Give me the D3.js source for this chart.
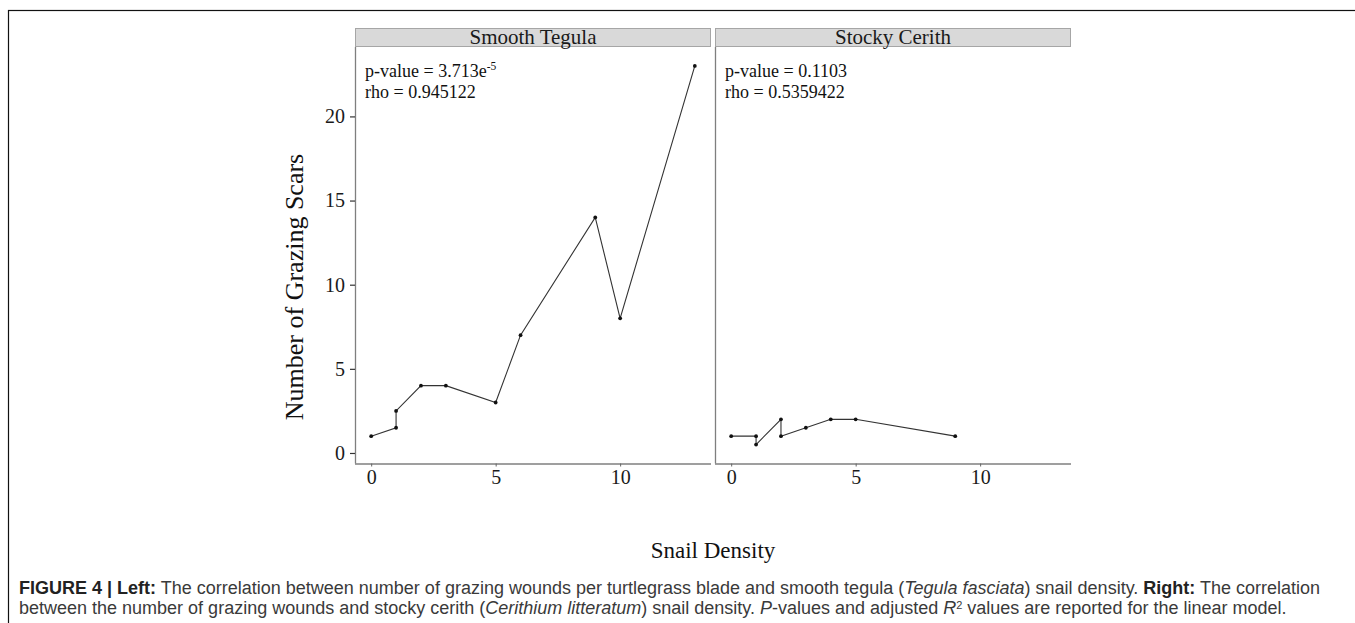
<!DOCTYPE html>
<html>
<head>
<meta charset="utf-8">
<script src="https://cdn.jsdelivr.net/npm/d3@7"></script>
<style>
  html, body { margin: 0; padding: 0; background: #fff; }
  svg { display: block; }
</style>
</head>
<body>
<svg id="chart" width="1355" height="623"></svg>
<script>
// ---------------- data ----------------
const facets = ["Smooth Tegula", "Stocky Cerith"];
const tegulaDensity = [0, 1, 1, 2, 3, 5, 6, 9, 10, 13];
const tegulaScars   = [1, 1.5, 2.5, 4, 4, 3, 7, 14, 8, 23];
const cerithDensity = [0, 1, 1, 2, 2, 3, 4, 5, 9];
const cerithScars   = [1, 1, 0.5, 2, 1, 1.5, 2, 2, 1];
const pValues = ["3.713e-5", "0.1103"];
const rhoValues = ["0.945122", "0.5359422"];
const xTicks = [0, 5, 10];
const yTicks = [0, 5, 10, 15, 20];
const xTitle = "Snail Density";
const yTitle = "Number of Grazing Scars";
const captionLine1 = [
  {t: "FIGURE 4 | Left:", s: "b"},
  {t: " The correlation between number of grazing wounds per turtlegrass blade and smooth tegula (", s: ""},
  {t: "Tegula fasciata", s: "i"},
  {t: ") snail density. ", s: ""},
  {t: "Right:", s: "b"},
  {t: " The correlation", s: ""}
];
const captionLine2 = [
  {t: "between the number of grazing wounds and stocky cerith (", s: ""},
  {t: "Cerithium litteratum", s: "i"},
  {t: ") snail density. ", s: ""},
  {t: "P", s: "i"},
  {t: "-values and adjusted ", s: ""},
  {t: "R", s: "i"},
  {t: "2", s: "sup"},
  {t: " values are reported for the linear model.", s: ""}
];

const series = [
  tegulaDensity.map((d, i) => ({x: d, y: tegulaScars[i]})),
  cerithDensity.map((d, i) => ({x: d, y: cerithScars[i]}))
];

// ---------------- layout ----------------
const svg = d3.select("#chart");
const serif = "'Liberation Serif', 'Times New Roman', serif";
const sans = "'Liberation Sans', Arial, Helvetica, sans-serif";

// figure frame
svg.append("rect").attr("x", 8.5).attr("y", 10.5).attr("width", 1500).attr("height", 800)
  .attr("fill", "none").attr("stroke", "#111").attr("stroke-width", 1.2);

const panelTop = 47, panelBottom = 463.5, stripTop = 28;
const panelLefts = [355, 715], panelW = 356;

const allX = tegulaDensity.concat(cerithDensity);
const allY = tegulaScars.concat(cerithScars);
const [x0, x1] = d3.extent(allX), [y0, y1] = d3.extent(allY);
const xPad = (x1 - x0) * 0.05, yPad = (y1 - y0) * 0.05;

const y = d3.scaleLinear().domain([y0 - yPad, y1 + yPad]).range([panelBottom, panelTop]);

facets.forEach((name, k) => {
  const left = panelLefts[k];
  const x = d3.scaleLinear().domain([x0 - xPad, x1 + xPad]).range([left, left + panelW]);
  const g = svg.append("g");

  // strip
  g.append("rect").attr("x", left + 0.5).attr("y", stripTop + 0.5)
    .attr("width", panelW - 1).attr("height", panelTop - stripTop - 1)
    .attr("fill", "#d9d9d9").attr("stroke", "#a6a6a6").attr("stroke-width", 1);
  g.append("text").attr("x", left + panelW / 2).attr("y", stripTop + 16)
    .attr("text-anchor", "middle").attr("font-family", serif).attr("font-size", 21)
    .attr("fill", "#1a1a1a").text(name);

  // x axis
  const xAxis = d3.axisBottom(x).tickValues(xTicks).tickSize(3).tickPadding(3);
  const gx = g.append("g").attr("transform", `translate(0,${panelBottom})`).call(xAxis);
  gx.select(".domain").attr("stroke", "#7f7f7f").attr("stroke-width", 1.3)
    .attr("d", `M${left},0.5H${left + panelW}`);
  gx.selectAll(".tick line").attr("stroke", "#666");
  gx.selectAll(".tick text").attr("font-family", serif).attr("font-size", 20).attr("fill", "#1a1a1a");

  // y axis
  const yAxis = d3.axisLeft(y).tickValues(yTicks).tickSize(k === 0 ? 5 : 0).tickPadding(5);
  const gy = g.append("g").attr("transform", `translate(${left},0)`).call(yAxis);
  gy.select(".domain").attr("stroke", "#7f7f7f").attr("stroke-width", 1.3)
    .attr("d", `M0.5,${panelTop}V${panelBottom}`);
  gy.selectAll(".tick line").attr("stroke", "#333").attr("stroke-width", 1.2);
  if (k === 0) {
    gy.selectAll(".tick text").attr("font-family", serif).attr("font-size", 20).attr("fill", "#1a1a1a");
  } else {
    gy.selectAll(".tick text").remove();
  }

  // line + points
  const line = d3.line().x(d => x(d.x)).y(d => y(d.y));
  g.append("path").datum(series[k]).attr("d", line)
    .attr("fill", "none").attr("stroke", "#333").attr("stroke-width", 1.1);
  g.selectAll("circle.pt").data(series[k]).join("circle").attr("class", "pt")
    .attr("cx", d => x(d.x)).attr("cy", d => y(d.y)).attr("r", 1.9).attr("fill", "#111");

  // annotations
  const pParts = pValues[k].split("e");
  const pt = g.append("text").attr("x", left + 10).attr("y", 77)
    .attr("font-family", serif).attr("font-size", 18).attr("fill", "#111");
  pt.append("tspan").text("p-value = " + pParts[0] + (pParts.length > 1 ? "e" : ""));
  if (pParts.length > 1) {
    pt.append("tspan").attr("dy", -7).attr("font-size", 11.5).text(pParts[1]);
  }
  g.append("text").attr("x", left + 10).attr("y", 98)
    .attr("font-family", serif).attr("font-size", 18).attr("fill", "#111")
    .text("rho = " + rhoValues[k]);
});

// axis titles
svg.append("text").attr("x", (panelLefts[0] + panelLefts[1] + panelW) / 2).attr("y", 558)
  .attr("text-anchor", "middle").attr("font-family", serif).attr("font-size", 23)
  .attr("fill", "#111").text(xTitle);
svg.append("text").attr("transform", "translate(303,287) rotate(-90)")
  .attr("text-anchor", "middle").attr("font-family", serif).attr("font-size", 26)
  .attr("fill", "#111").text(yTitle);

// caption
function caption(parts, yPos) {
  const t = svg.append("text").attr("x", 19).attr("y", yPos)
    .attr("font-family", sans).attr("font-size", 15).attr("fill", "#3a3a3a");
  parts.forEach((p, i) => {
    const s = t.append("tspan").text(p.t);
    if (p.s === "b") s.attr("font-weight", "bold").attr("fill", "#222");
    if (p.s === "i") s.attr("font-style", "italic");
    if (p.s === "sup") { s.attr("dy", -5).attr("font-size", 11); }
    if (p.s !== "sup" && i > 0 && parts[i - 1].s === "sup") s.attr("dy", 5);
  });
  return t;
}
const c1 = caption(captionLine1, 594);
const c2 = caption(captionLine2, 614);
const w1 = c1.node().getComputedTextLength();
const fs = 15 * (1321 - 19) / w1;
c1.attr("font-size", fs);
c2.attr("font-size", fs);
</script>
</body>
</html>
